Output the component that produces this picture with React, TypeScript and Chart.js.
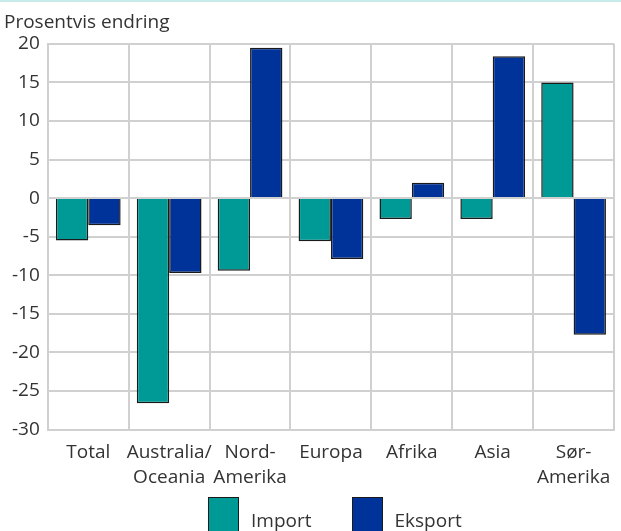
import React, { useEffect, useRef } from "react";
import { Chart, registerables } from "chart.js";

Chart.register(...registerables);

const categories: (string | string[])[] = [
  "Total",
  ["Australia/", "Oceania"],
  ["Nord-", "Amerika"],
  "Europa",
  "Afrika",
  "Asia",
  ["Sør-", "Amerika"],
];
const importValues = [-5.5, -26.6, -9.4, -5.6, -2.7, -2.7, 15.0];
const eksportValues = [-3.5, -9.7, 19.5, -7.9, 2.0, 18.4, -17.7];
const seriesNames = ["Import", "Eksport"];
const seriesColors = ["#009a96", "#003399"];
const titleText = "Prosentvis endring";

const FONT = "'Open Sans', 'Noto Sans', sans-serif";

export default function App() {
  const ref = useRef<HTMLCanvasElement>(null);
  useEffect(() => {
    if (!ref.current) return;
    const chart = new Chart(ref.current, {
      type: "bar",
      data: {
        labels: categories,
        datasets: seriesNames.map((name, i) => ({
          label: name,
          data: i === 0 ? importValues : eksportValues,
          backgroundColor: seriesColors[i],
          borderColor: "#1a1a1a",
          borderWidth: 1.5,
          categoryPercentage: 0.8,
          barPercentage: 1.0,
        })),
      },
      options: {
        animation: false,
        responsive: false,
        maintainAspectRatio: false,
        layout: { padding: { left: 4, right: 3, top: 0, bottom: 0 } },
        plugins: {
          title: {
            display: true,
            text: titleText,
            align: "start",
            color: "#333",
            font: { family: FONT, size: 19, weight: "normal" },
            padding: { top: 11, bottom: 10 },
          },
          legend: { display: false },
          tooltip: { enabled: false },
        },
        scales: {
          x: {
            grid: { color: "#d0d0d0", lineWidth: 2, drawTicks: false, offset: true },
            border: { color: "#d0d0d0", width: 2 },
            ticks: {
              color: "#333",
              font: { family: FONT, size: 19, lineHeight: 1.3 },
              maxRotation: 0,
              autoSkip: false,
              padding: 10.5,
            },
          },
          y: {
            min: -30,
            max: 20,
            grid: { color: "#d0d0d0", lineWidth: 2, drawTicks: false },
            border: { color: "#d0d0d0", width: 2 },
            ticks: {
              stepSize: 5,
              color: "#333",
              font: { family: FONT, size: 19 },
              padding: 8,
            },
          },
        },
      },
    });
    return () => chart.destroy();
  }, []);
  return (
    <div
      style={{
        position: "absolute",
        left: 0,
        top: 0,
        width: 621,
        height: 531,
        background: "#fff",
        overflow: "hidden",
        fontFamily: FONT,
      }}
    >
      <canvas ref={ref} width={621} height={500} style={{ display: "block" }} />
      <div
        style={{
          position: "absolute",
          left: 0,
          top: 0,
          width: 621,
          height: 2,
          background: "#c8ecec",
        }}
      />
      <div
        style={{
          position: "absolute",
          left: 208,
          top: 497,
          display: "flex",
          alignItems: "flex-start",
          gap: 40,
        }}
      >
        {seriesNames.map((name, i) => (
          <div key={name} style={{ display: "flex", alignItems: "flex-start", gap: 12 }}>
            <div
              style={{
                width: 31,
                height: 38,
                background: seriesColors[i],
                border: "1.5px solid #1a1a1a",
                boxSizing: "border-box",
              }}
            />
            <span style={{ fontSize: 19, lineHeight: "26px", paddingTop: 10, color: "#333" }}>
              {name}
            </span>
          </div>
        ))}
      </div>
    </div>
  );
}
